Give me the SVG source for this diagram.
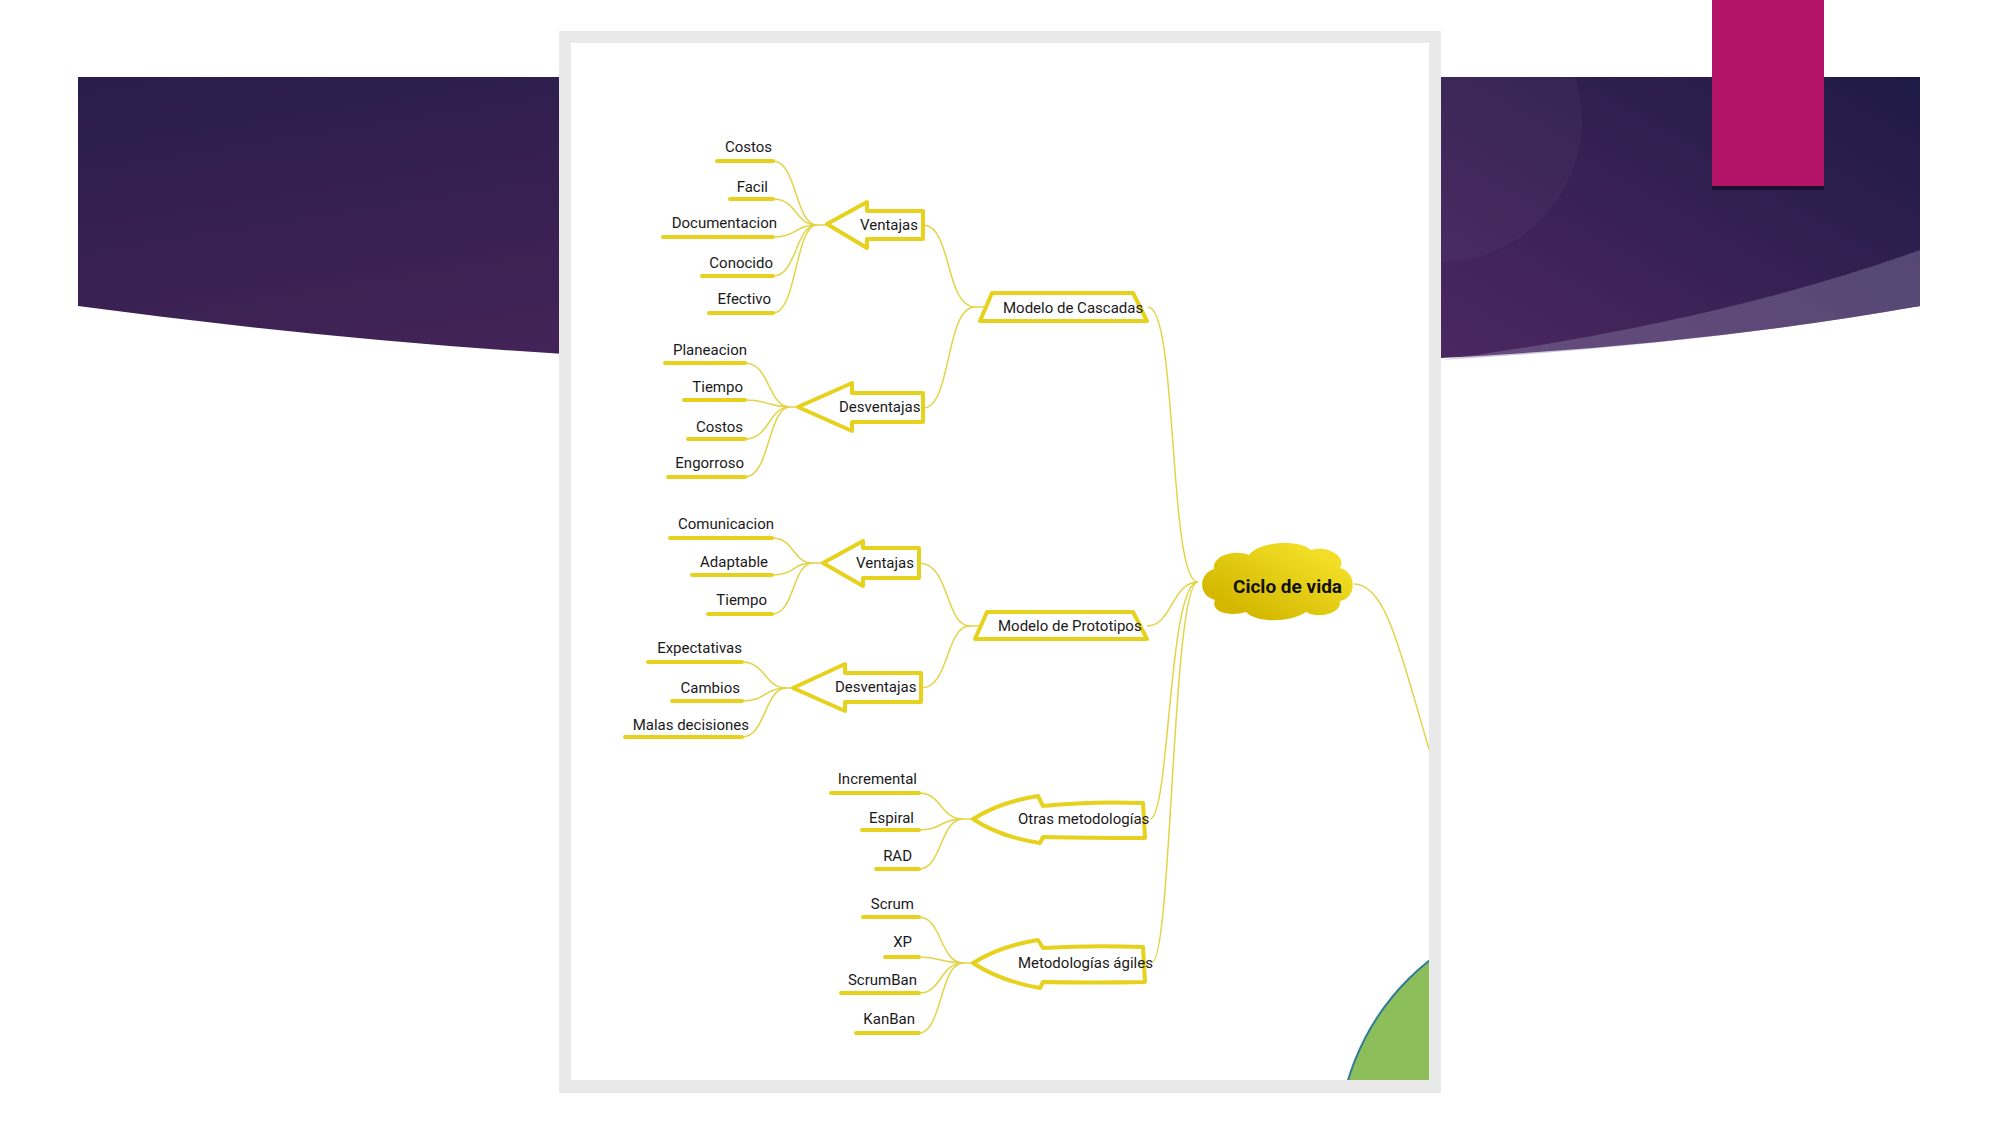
<svg xmlns="http://www.w3.org/2000/svg" width="2000" height="1125" viewBox="0 0 2000 1125">
<defs>
<linearGradient id="bgL" x1="0" y1="0" x2="1" y2="1"><stop offset="0" stop-color="#291d4b"/><stop offset="1" stop-color="#562860"/></linearGradient>
<linearGradient id="bgR" x1="0" y1="1" x2="1" y2="0"><stop offset="0" stop-color="#4c2761"/><stop offset="1" stop-color="#1f1a45"/></linearGradient>
<linearGradient id="cloudG" gradientUnits="userSpaceOnUse" x1="1300" y1="545" x2="1260" y2="620"><stop offset="0" stop-color="#f2de26"/><stop offset="1" stop-color="#d4b800"/></linearGradient>
<clipPath id="inner"><rect x="571" y="43" width="858" height="1037"/></clipPath>
<style>
.t{font-family:Roboto,"Liberation Sans",sans-serif;font-size:15px;fill:#1a1a1a}
.tb{font-family:Roboto,"Liberation Sans",sans-serif;font-size:19px;font-weight:bold;fill:#111}
.ul{stroke:#e6d21c;stroke-width:4;stroke-linecap:round;fill:none}
.ln{stroke:#e3d447;stroke-width:1.5;fill:none}
.sh{fill:#fff;stroke:#e6d21c;stroke-width:4;stroke-linejoin:round}
</style>
</defs>
<g id="background">
<rect width="2000" height="1125" fill="#fff"/>
<path d="M78,77 H1920 V306 Q1000,430 78,306 Z" fill="url(#bgL)"/>
<path d="M1441,77 H1920 V306 Q1700,345 1441,358 Z" fill="url(#bgR)"/>
<circle cx="1440" cy="120" r="142" fill="#ffffff" fill-opacity="0.03"/>
<path d="M1441,360 Q1720,322 1920,250 V306 Q1700,345 1441,360 Z" fill="#8c80a8" fill-opacity="0.42"/>
<rect x="1712" y="0" width="112" height="190" fill="#1a1030"/>
<rect x="1712" y="0" width="112" height="186" fill="#b31467"/>
</g>
<g id="panel">
<rect x="559" y="31" width="882" height="1062" fill="#e9e9e9"/>
<rect x="571" y="43" width="858" height="1037" fill="#fff"/>
<g clip-path="url(#inner)">
<circle cx="1578" cy="1149" r="240" fill="#8cbf5a" stroke="#2f7b98" stroke-width="2"/>
</g>
</g>
<g id="connectors">
<g clip-path="url(#inner)"><path class="ln" d="M1354,584 C1392,584 1405,680 1445,800"/></g>
<path class="ln" d="M1148,307 C1178,307 1168,582 1198,582"/>
<path class="ln" d="M1147,626 C1172,626 1172,582 1198,582"/>
<path class="ln" d="M1150,819 C1170,819 1168,582 1198,582"/>
<path class="ln" d="M1152,962 C1172,962 1172,582 1198,582"/>
<path class="ln" d="M923,225 C952,225 945,307 975,307 H985"/>
<path class="ln" d="M923,408 C952,408 945,307 975,307"/>
<path class="ln" d="M919,563 C950,563 945,626 970,626 H980"/>
<path class="ln" d="M921,688 C950,688 945,626 970,626"/>
<path class="ln" d="M773,161 C797,161 795,225 817,225 H827"/>
<path class="ln" d="M773,199 C797,199 795,225 817,225"/>
<path class="ln" d="M773,237 C797,237 795,225 817,225"/>
<path class="ln" d="M773,276 C797,276 795,225 817,225"/>
<path class="ln" d="M773,313 C797,313 795,225 817,225"/>
<path class="ln" d="M745,363 C770,363 768,407 790,407 H798"/>
<path class="ln" d="M745,400 C770,400 768,407 790,407"/>
<path class="ln" d="M745,439 C770,439 768,407 790,407"/>
<path class="ln" d="M745,477 C770,477 768,407 790,407"/>
<path class="ln" d="M772,538 C795,538 792,563 813,563 H823"/>
<path class="ln" d="M772,575 C795,575 792,563 813,563"/>
<path class="ln" d="M772,614 C795,614 792,563 813,563"/>
<path class="ln" d="M742,662 C766,662 764,688 787,688 H793"/>
<path class="ln" d="M742,701 C766,701 764,688 787,688"/>
<path class="ln" d="M742,737 C766,737 764,688 787,688"/>
<path class="ln" d="M919,793 C942,793 940,819 963,819 H973"/>
<path class="ln" d="M919,830 C942,830 940,819 963,819"/>
<path class="ln" d="M919,869 C942,869 940,819 963,819"/>
<path class="ln" d="M919,917 C942,917 940,963 963,963 H973"/>
<path class="ln" d="M919,957 C942,957 940,963 963,963"/>
<path class="ln" d="M919,993 C942,993 940,963 963,963"/>
<path class="ln" d="M919,1033 C942,1033 940,963 963,963"/>
</g>
<g id="node-ciclo">
<path fill="url(#cloudG)" d="M1215,600 C1198,596 1198,574 1214,569 C1212,555 1236,549 1249,555 C1259,541 1300,539 1311,550 C1327,545 1347,556 1340,568 C1357,572 1357,598 1340,601 C1342,614 1318,619 1306,612 C1290,623 1256,623 1246,612 C1229,617 1210,612 1215,600 Z"/>
<text class="tb" x="1233" y="593">Ciclo de vida</text>
</g>
<g id="node-cascadas">
<polygon class="sh" points="992,293 1133,293 1147,321 980,321"/>
<text class="t" x="1003" y="313">Modelo de Cascadas</text>
</g>
<g id="node-prototipos">
<polygon class="sh" points="987,612 1133,612 1147,639 975,639"/>
<text class="t" x="998" y="631">Modelo de Prototipos</text>
</g>
<g id="node-otras">
<path class="sh" d="M973,819 Q1000,802 1038,796 L1043,806 Q1090,801 1143,803 L1145,838 Q1090,838 1043,837 L1040,843 Q1000,837 973,819 Z"/>
<text class="t" x="1018" y="824">Otras metodologías</text>
</g>
<g id="node-agiles">
<path class="sh" d="M973,963 Q1000,946 1038,940 L1043,948 Q1090,945 1143,947 L1145,982 Q1090,983 1043,982 L1040,988 Q1000,981 973,963 Z"/>
<text class="t" x="1018" y="968">Metodologías ágiles</text>
</g>
<g id="node-ventajas-c">
<polygon class="sh" points="827,224 867,202 867,211 923,211 923,239 867,239 867,248"/>
<text class="t" x="860" y="230">Ventajas</text>
</g>
<g id="node-desventajas-c">
<polygon class="sh" points="798,407 852,383 852,393 923,393 923,422 852,422 852,431"/>
<text class="t" x="839" y="412">Desventajas</text>
</g>
<g id="node-ventajas-p">
<polygon class="sh" points="823,563 863,541 863,548 919,548 919,578 863,578 863,586"/>
<text class="t" x="856" y="568">Ventajas</text>
</g>
<g id="node-desventajas-p">
<polygon class="sh" points="793,688 845,664 845,673 921,673 921,702 845,702 845,711"/>
<text class="t" x="835" y="692">Desventajas</text>
</g>
<g id="leaves" text-anchor="end">
<g id="leaf-costos1"><line class="ul" x1="717" y1="161" x2="773" y2="161"/><text class="t" x="772" y="152">Costos</text></g>
<g id="leaf-facil"><line class="ul" x1="730" y1="199" x2="773" y2="199"/><text class="t" x="768" y="192">Facil</text></g>
<g id="leaf-documentacion"><line class="ul" x1="663" y1="237" x2="773" y2="237"/><text class="t" x="777" y="228">Documentacion</text></g>
<g id="leaf-conocido"><line class="ul" x1="702" y1="276" x2="773" y2="276"/><text class="t" x="773" y="268">Conocido</text></g>
<g id="leaf-efectivo"><line class="ul" x1="709" y1="313" x2="773" y2="313"/><text class="t" x="771" y="304">Efectivo</text></g>
<g id="leaf-planeacion"><line class="ul" x1="665" y1="363" x2="745" y2="363"/><text class="t" x="747" y="355">Planeacion</text></g>
<g id="leaf-tiempo1"><line class="ul" x1="684" y1="400" x2="745" y2="400"/><text class="t" x="743" y="392">Tiempo</text></g>
<g id="leaf-costos2"><line class="ul" x1="688" y1="439" x2="745" y2="439"/><text class="t" x="743" y="432">Costos</text></g>
<g id="leaf-engorroso"><line class="ul" x1="668" y1="477" x2="745" y2="477"/><text class="t" x="744" y="468">Engorroso</text></g>
<g id="leaf-comunicacion"><line class="ul" x1="670" y1="538" x2="772" y2="538"/><text class="t" x="774" y="529">Comunicacion</text></g>
<g id="leaf-adaptable"><line class="ul" x1="692" y1="575" x2="772" y2="575"/><text class="t" x="768" y="567">Adaptable</text></g>
<g id="leaf-tiempo2"><line class="ul" x1="708" y1="614" x2="772" y2="614"/><text class="t" x="767" y="605">Tiempo</text></g>
<g id="leaf-expectativas"><line class="ul" x1="648" y1="662" x2="742" y2="662"/><text class="t" x="742" y="653">Expectativas</text></g>
<g id="leaf-cambios"><line class="ul" x1="672" y1="701" x2="742" y2="701"/><text class="t" x="740" y="693">Cambios</text></g>
<g id="leaf-malas"><line class="ul" x1="625" y1="737" x2="742" y2="737"/><text class="t" x="749" y="730">Malas decisiones</text></g>
<g id="leaf-incremental"><line class="ul" x1="831" y1="793" x2="919" y2="793"/><text class="t" x="917" y="784">Incremental</text></g>
<g id="leaf-espiral"><line class="ul" x1="862" y1="830" x2="919" y2="830"/><text class="t" x="914" y="823">Espiral</text></g>
<g id="leaf-rad"><line class="ul" x1="876" y1="869" x2="919" y2="869"/><text class="t" x="912" y="861">RAD</text></g>
<g id="leaf-scrum"><line class="ul" x1="863" y1="917" x2="919" y2="917"/><text class="t" x="914" y="909">Scrum</text></g>
<g id="leaf-xp"><line class="ul" x1="885" y1="957" x2="919" y2="957"/><text class="t" x="912" y="947">XP</text></g>
<g id="leaf-scrumban"><line class="ul" x1="841" y1="993" x2="919" y2="993"/><text class="t" x="917" y="985">ScrumBan</text></g>
<g id="leaf-kanban"><line class="ul" x1="856" y1="1033" x2="919" y2="1033"/><text class="t" x="915" y="1024">KanBan</text></g>
</g>
</svg>
